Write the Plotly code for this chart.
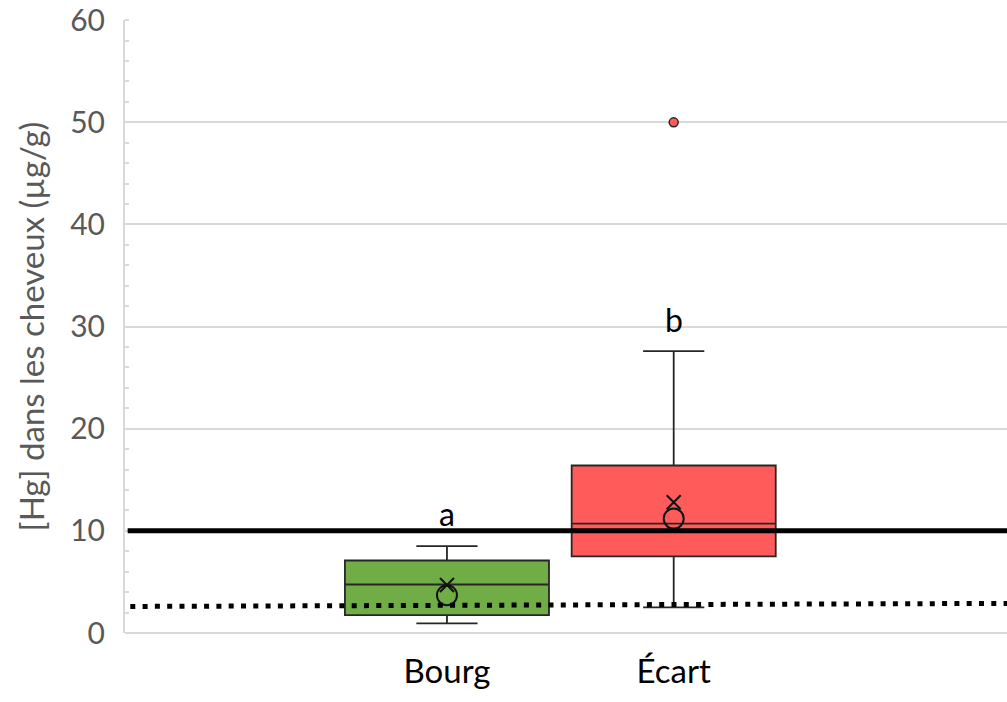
import plotly.graph_objects as go

# Mercury concentration in hair, by site
sites = ["Bourg", "Écart"]
lower_whisker = [0.95, 2.5]
q1 = [1.75, 7.5]
median = [4.75, 10.7]
q3 = [7.1, 16.4]
upper_whisker = [8.5, 27.6]
mean_x = [4.7, 12.8]
mean_circle = [3.7, 11.2]
outliers = [[], [50.0]]
group_letters = ["a", "b"]
letter_y = [11.7, 30.7]
fill_colors = ["#70AD47", "#FF5B5B"]

# Reference thresholds
who_threshold = 10.0
dotted_ref = [2.6, 2.9]  # value at left and right of the plot

y_ticks = [0, 10, 20, 30, 40, 50, 60]

FONT = "Lato"

fig = go.Figure()

for i, site in enumerate(sites):
    fig.add_trace(go.Box(
        x=[i], q1=[q1[i]], median=[median[i]], q3=[q3[i]],
        lowerfence=[lower_whisker[i]], upperfence=[upper_whisker[i]],
        fillcolor=fill_colors[i],
        line=dict(color="#262626", width=1.8),
        width=0.9, whiskerwidth=0.3,
        boxpoints=False, showlegend=False, name=site,
    ))
    if outliers[i]:
        fig.add_trace(go.Scatter(
            x=[i] * len(outliers[i]), y=outliers[i], mode="markers",
            marker=dict(size=9, color=fill_colors[i], line=dict(color="#262626", width=1.5)),
            showlegend=False,
        ))

fig.add_trace(go.Scatter(
    x=list(range(len(sites))), y=mean_x, mode="markers",
    marker=dict(symbol="x-thin-open", size=14, color="#111111", line=dict(color="#111111", width=2)),
    showlegend=False,
))
fig.add_trace(go.Scatter(
    x=list(range(len(sites))), y=mean_circle, mode="markers",
    marker=dict(symbol="circle-open", size=20, color="#111111", line=dict(color="#111111", width=2)),
    showlegend=False,
))

for i, letter in enumerate(group_letters):
    fig.add_annotation(x=i, y=letter_y[i], text=letter, showarrow=False,
                       font=dict(family=FONT, size=32, color="#000000"),
                       yanchor="middle")

fig.add_shape(type="line", xref="paper", yref="y", x0=0.003, x1=1,
              y0=who_threshold, y1=who_threshold,
              line=dict(color="#000000", width=5))
fig.add_shape(type="line", xref="paper", yref="y", x0=0.006, x1=1,
              y0=dotted_ref[0], y1=dotted_ref[1],
              line=dict(color="#000000", width=5, dash="5px,7.3px"))

fig.update_layout(
    width=1007, height=702,
    margin=dict(l=125, r=0, t=20, b=69),
    paper_bgcolor="white", plot_bgcolor="white",
    font=dict(family=FONT),
)
fig.update_xaxes(
    range=[-1.42, 2.47], tickvals=list(range(len(sites))), ticktext=sites,
    tickfont=dict(family=FONT, size=33, color="#000000"),
    showgrid=False, zeroline=False, showline=False, ticks="",
    ticklabelstandoff=16, automargin=False,
)
fig.update_yaxes(
    range=[0, 60.02], tickvals=y_ticks,
    tickfont=dict(family=FONT, size=30, color="#595959"),
    ticklabeloverflow="allow", automargin=False,
    showgrid=True, gridcolor="#D9D9D9", gridwidth=2,
    zeroline=True, zerolinecolor="#D9D9D9", zerolinewidth=2,
    showline=True, linecolor="#D9D9D9", linewidth=2,
    ticklabelstandoff=12,
    minor=dict(dtick=2, ticks="inside", ticklen=4, tickcolor="#D9D9D9", tickwidth=1.5, showgrid=False),
    title=dict(text="[Hg] dans les cheveux (µg/g)", font=dict(family=FONT, size=33, color="#595959"), standoff=16),
)

fig.write_html("out.html")
